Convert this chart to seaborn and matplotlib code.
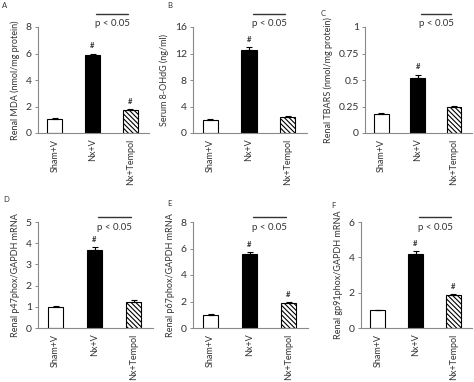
import matplotlib
matplotlib.use("Agg")
import matplotlib.pyplot as plt
import matplotlib.transforms as mtransforms
import numpy as np
import pandas as pd
import seaborn as sns

sns.set_style("white")
plt.rcParams['font.family'] = ['Lato', 'DejaVu Sans']
plt.rcParams['hatch.linewidth'] = 0.8

groups = ["Sham+V", "Nx+V", "Nx+Tempol"]

panel_labels = ["A", "B", "C", "D", "E", "F"]
ylabels = [
    "Renal MDA (nmol/mg protein)",
    "Serum 8-OHdG (ng/ml)",
    "Renal TBARS (nmol/mg protein)",
    "Renal p47phox/GAPDH mRNA",
    "Renal p67phox/GAPDH mRNA",
    "Renal gp91phox/GAPDH mRNA",
]
means_A = [1.05, 5.85, 1.75]
errs_A = [0.08, 0.15, 0.08]
means_B = [2.0, 12.6, 2.4]
errs_B = [0.1, 0.4, 0.1]
means_C = [0.18, 0.52, 0.25]
errs_C = [0.012, 0.03, 0.006]
means_D = [1.0, 3.7, 1.25]
errs_D = [0.04, 0.1, 0.05]
means_E = [1.0, 5.6, 1.9]
errs_E = [0.03, 0.15, 0.08]
means_F = [1.0, 4.2, 1.85]
errs_F = [0.03, 0.15, 0.05]
yticks_A = [0, 2, 4, 6, 8]
yticks_B = [0, 4, 8, 12, 16]
yticks_C = [0, 0.25, 0.5, 0.75, 1]
ytick_labels_C = ["0", "0.25", "0.5", "0.75", "1"]
yticks_D = [0, 1, 2, 3, 4, 5]
yticks_E = [0, 2, 4, 6, 8]
yticks_F = [0, 2, 4, 6]
sig_A = [False, True, True]
sig_B = [False, True, False]
sig_C = [False, True, False]
sig_D = [False, True, False]
sig_E = [False, True, True]
sig_F = [False, True, True]
pval_text = "p < 0.05"

panels = [
    (means_A, errs_A, yticks_A, None, sig_A),
    (means_B, errs_B, yticks_B, None, sig_B),
    (means_C, errs_C, yticks_C, ytick_labels_C, sig_C),
    (means_D, errs_D, yticks_D, None, sig_D),
    (means_E, errs_E, yticks_E, None, sig_E),
    (means_F, errs_F, yticks_F, None, sig_F),
]

W, H = 474, 382
fig = plt.figure(figsize=(W / 100, H / 100), dpi=100)

# axes boxes in pixels: left, right, top, bottom
boxes = [
    (38, 149, 27, 133),
    (193, 307, 27, 133),
    (365, 472, 27, 133),
    (38, 153, 222, 328),
    (193, 308, 222, 328),
    (361, 472, 222, 328),
]
label_pos = [(2, 6), (167, 6), (321, 14), (3, 200), (167, 204), (331, 205)]
pline_y = [1.12, 1.12, 1.12, 1.05, 1.05, 1.05]
ptext_y = [1.03, 1.03, 1.03, 0.95, 0.95, 0.95]

gray = "#8a8a8a"
txt = "#333333"

for i, (means, errs, yt, ytl, sig) in enumerate(panels):
    l, r, t, b = boxes[i]
    ax = fig.add_axes([l / W, 1 - b / H, (r - l) / W, (b - t) / H])
    df = pd.DataFrame({"group": groups, "value": means})
    sns.barplot(data=df, x="group", y="value", hue="group", order=groups,
                palette=["white", "black", "white"], edgecolor="black",
                linewidth=0.8, width=0.4, legend=False, ax=ax, errorbar=None)
    for j, p in enumerate(ax.patches):
        if j == 2:
            p.set_hatch("\\\\\\\\\\\\\\")
    xs = np.arange(len(groups))
    ax.errorbar(xs, means, yerr=[np.zeros(len(errs)), errs], fmt="none",
                ecolor="black", elinewidth=0.8, capsize=2.4, capthick=0.8)
    ymax = yt[-1]
    for j, s in enumerate(sig):
        if s:
            ax.text(xs[j], means[j] + errs[j] + ymax * 0.04, "#", ha="center",
                    va="bottom", fontsize=5.5, fontweight="bold", color=txt)
    ax.set_ylim(0, ymax)
    ax.set_xlim(-0.45, 2.5)
    ax.set_yticks(yt)
    if ytl is not None:
        ax.set_yticklabels(ytl)
    ax.set_xlabel("")
    ax.set_ylabel(ylabels[i], fontsize=6.5, color=txt, labelpad=4)
    ax.tick_params(axis="y", length=2.5, width=0.7, color=gray, labelsize=7.5,
                   labelcolor=txt, pad=2, left=True)
    ax.tick_params(axis="x", length=0, labelsize=6.5, labelcolor=txt,
                   labelrotation=90, pad=4)
    for sp in ["top", "right"]:
        ax.spines[sp].set_visible(False)
    for sp in ["left", "bottom"]:
        ax.spines[sp].set_color(gray)
        ax.spines[sp].set_linewidth(0.8)
    trans = mtransforms.blended_transform_factory(ax.transData, ax.transAxes)
    ax.plot([1.1, 1.93], [pline_y[i], pline_y[i]], color="#333333", lw=1.0,
            transform=trans, clip_on=False)
    ax.text(1.52, ptext_y[i], pval_text, transform=trans, ha="center",
            va="center", fontsize=7, color=txt)
    fig.text(label_pos[i][0] / W, 1 - label_pos[i][1] / H, panel_labels[i],
             fontsize=5.5, color=txt, ha="left", va="center")

fig.savefig("out.png", dpi=100)
